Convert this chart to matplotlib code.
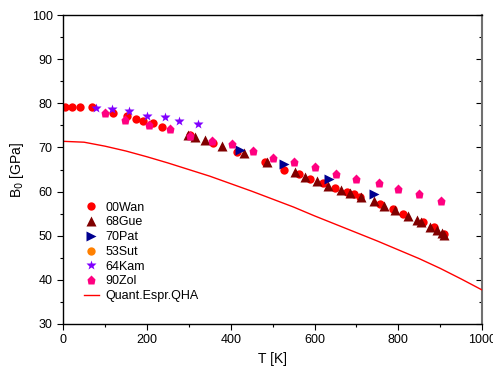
import numpy as np
import matplotlib.pyplot as plt
from matplotlib.ticker import MultipleLocator

plt.rcParams['font.family'] = ['Liberation Sans', 'DejaVu Sans']

# 00Wan
wan_T = [5, 21, 41, 69, 120, 152, 174, 190, 215, 235, 303, 358, 414, 482, 526, 562, 590,
         621, 649, 677, 693, 709, 757, 788, 812, 860, 884, 908]
wan_B = [79.2, 79.2, 79.2, 79.1, 77.9, 77.1, 76.4, 76.0, 75.5, 74.7, 72.8, 71.0, 69.0, 66.7,
         64.9, 63.9, 62.8, 61.9, 60.8, 60.0, 59.4, 58.8, 57.2, 56.0, 54.9, 53.2, 51.9, 50.3]

# 68Gue
gue_T = [297, 315, 339, 379, 431, 486, 554, 578, 605, 633, 663, 685, 711, 741, 765, 792,
         824, 844, 854, 876, 892, 904, 910]
gue_B = [72.8, 72.4, 71.6, 70.4, 68.7, 66.6, 64.4, 63.4, 62.4, 61.3, 60.4, 59.6, 58.7, 57.9,
         56.7, 55.8, 54.5, 53.6, 53.2, 52.0, 51.3, 50.6, 50.2]

# 70Pat
pat_T = [422, 526, 635, 741]
pat_B = [69.4, 66.2, 62.8, 59.4]

# 53Sut (hidden under other points)
sut_T = []
sut_B = []

# 64Kam
kam_T = [79, 116, 157, 200, 243, 277, 321]
kam_B = [79.0, 78.7, 78.2, 77.2, 77.0, 76.0, 75.3]

# 90Zol
zol_T = [100, 148, 204, 255, 303, 355, 404, 452, 500, 550, 601, 652, 699, 755, 800, 850, 902]
zol_B = [77.9, 76.2, 75.1, 74.1, 72.7, 71.5, 70.8, 69.3, 67.6, 66.8, 65.6, 64.0, 62.8, 62.0,
         60.5, 59.4, 57.9]

# Quant.Espr.QHA
qha_T = [0, 50, 100, 150, 200, 250, 300, 350, 400, 450, 500, 550, 600, 650, 700, 750, 800,
         850, 900, 950, 1000]
qha_B = [71.4, 71.2, 70.3, 69.2, 67.9, 66.5, 65.0, 63.5, 61.8, 60.1, 58.3, 56.5, 54.5, 52.6,
         50.7, 48.8, 46.8, 44.8, 42.6, 40.2, 37.7]

fig = plt.figure(figsize=(4.93, 3.69), dpi=100)
ax = fig.add_axes([0.128, 0.122, 0.850, 0.837])

ax.plot(wan_T, wan_B, 'o', color='#ff0000', ms=6, mec='none', label='00Wan')
ax.plot(gue_T, gue_B, '^', color='#800000', ms=6.5, mec='none', label='68Gue')
ax.plot(pat_T, pat_B, '>', color='#000090', ms=6.5, mec='none', label='70Pat')
ax.plot(sut_T, sut_B, 'o', color='#ff8000', ms=6, mec='none', label='53Sut')
ax.plot(kam_T, kam_B, '*', color='#8000ff', ms=7.5, mec='none', label='64Kam')
ax.plot(zol_T, zol_B, 'p', color='#ff0080', ms=6.5, mec='none', label='90Zol')
ax.plot(qha_T, qha_B, '-', color='#ff0000', lw=1.0, label='Quant.Espr.QHA')

ax.set_xlim(0, 1000)
ax.set_ylim(30, 100)
ax.xaxis.set_major_locator(MultipleLocator(200))
ax.xaxis.set_minor_locator(MultipleLocator(100))
ax.yaxis.set_major_locator(MultipleLocator(10))
ax.yaxis.set_minor_locator(MultipleLocator(5))
ax.tick_params(which='both', direction='out', labelsize=9, width=0.8)
ax.tick_params(which='major', length=4)
ax.tick_params(which='minor', length=2.5)

# mirrored ticks on the right side, pointing inward
axr = ax.secondary_yaxis('right')
axr.yaxis.set_major_locator(MultipleLocator(10))
axr.yaxis.set_minor_locator(MultipleLocator(5))
axr.tick_params(which='both', direction='in', labelright=False, width=0.8)
axr.tick_params(which='major', length=4)
axr.tick_params(which='minor', length=2.5)
axr.spines['right'].set_color('#707070')
axr.spines['right'].set_linewidth(1.5)
ax.spines['right'].set_visible(False)

for s in ['left', 'bottom', 'top']:
    ax.spines[s].set_linewidth(1.0)

ax.set_xlabel('T [K]', fontsize=10)
ax.set_ylabel('B$_0$ [GPa]', fontsize=10)

ax.legend(loc='lower left', bbox_to_anchor=(0.02, 0.03), frameon=False, fontsize=9,
          handlelength=1.2, handletextpad=0.5, labelspacing=0.22, borderaxespad=0.6,
          numpoints=1)

fig.savefig('out.png', dpi=100)
